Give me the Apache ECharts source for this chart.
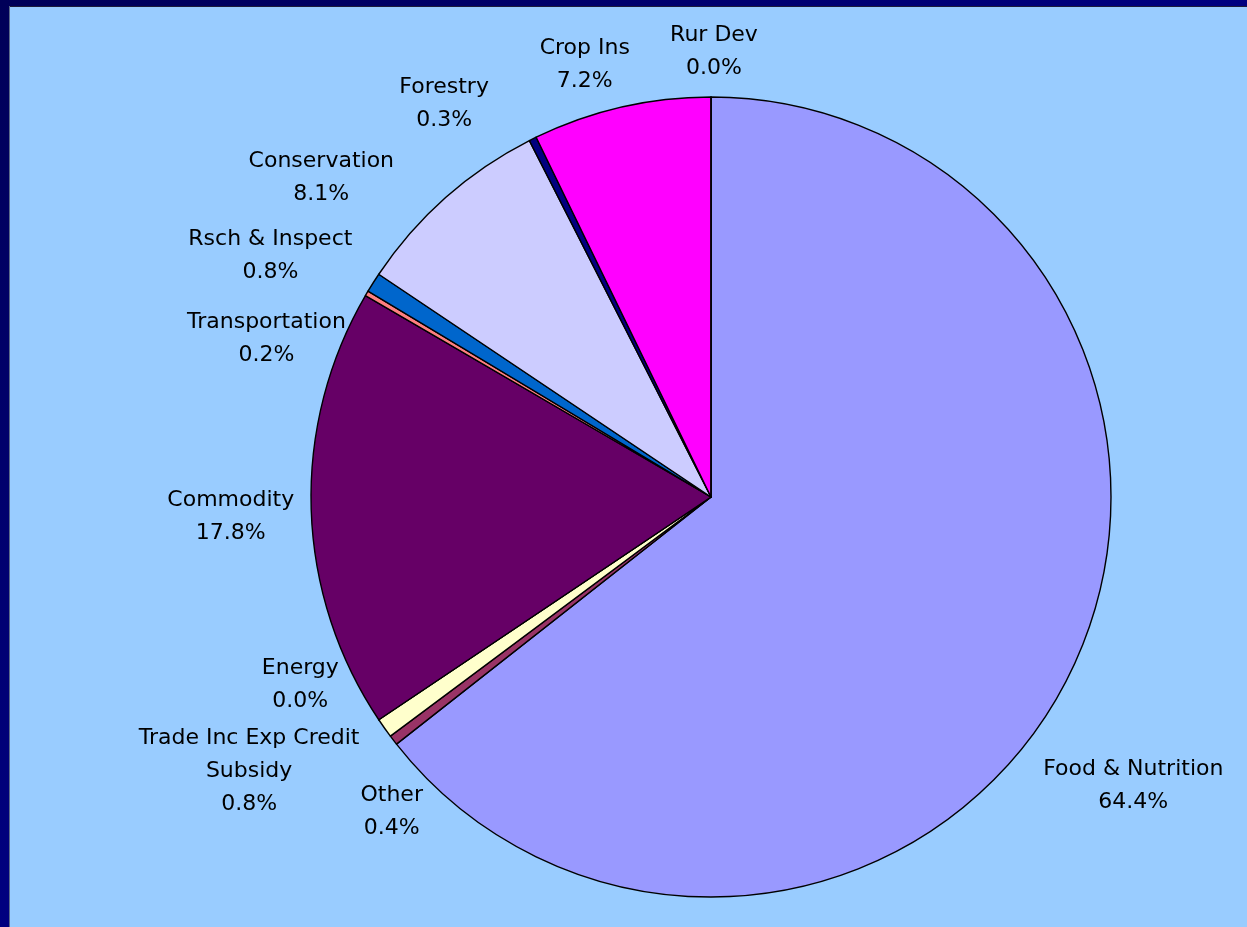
<!DOCTYPE html>
<html>
<head>
<meta charset="utf-8">
<title>Outlays by Mission Area</title>
<script src="https://cdn.jsdelivr.net/npm/echarts@6/dist/echarts.min.js"></script>
<style>
  html, body { margin: 0; padding: 0; background: #99CCFF; }
  #chart { width: 1247px; height: 927px; }
</style>
</head>
<body>
<div id="chart"></div>
<script>
// Share of outlays by mission area (percent), clockwise from 12 o'clock
const categories = [
  'Food & Nutrition', 'Other', 'Trade Inc Exp Credit\nSubsidy', 'Energy',
  'Commodity', 'Transportation', 'Rsch & Inspect', 'Conservation',
  'Forestry', 'Crop Ins', 'Rur Dev'
];
const values = [64.4, 0.4, 0.8, 0.0, 17.8, 0.2, 0.8, 8.1, 0.3, 7.2, 0.0];
const sliceColors = [
  '#9999FF', '#993366', '#FFFFCC', '#FFFFFF',
  '#660066', '#FF8080', '#0066CC', '#CCCCFF',
  '#000080', '#FF00FF', '#00FFFF'
];

// Pie geometry (pixels)
const CX = 711, CY = 497, RADIUS = 400, LABEL_GAP = 15;
// Small per-label adjustments so neighbouring labels do not collide
const labelNudge = [
  [-32, 93], [35, 42], [-33, 6], [-34, -62], [-2, 6], [-19, 70],
  [-21, -1], [-66, 16], [-62, 8], [-23, 4], [3, 3]
];

const total = values.reduce((a, b) => a + b, 0);
const startShare = [];
values.reduce((acc, v, i) => { startShare[i] = acc; return acc + v; }, 0);

const chart = echarts.init(document.getElementById('chart'), null, { renderer: 'canvas' });

chart.setOption({
  backgroundColor: '#99CCFF',
  animation: false,
  graphic: [
    { type: 'rect', shape: { x: 0, y: 0, width: 1247, height: 6 },
      style: { fill: new echarts.graphic.LinearGradient(0, 0, 1, 0, [
        { offset: 0, color: '#000058' }, { offset: 1, color: '#000080' }]) } },
    { type: 'rect', shape: { x: 0, y: 0, width: 9, height: 927 },
      style: { fill: new echarts.graphic.LinearGradient(0, 0, 0, 1, [
        { offset: 0, color: '#000058' }, { offset: 1, color: '#000080' }]) } },
    { type: 'rect', shape: { x: 9, y: 6, width: 1238, height: 1 },
      style: { fill: '#1c1c3a' } },
    { type: 'rect', shape: { x: 9, y: 6, width: 1, height: 921 },
      style: { fill: '#5a6a8a' } }
  ],
  series: [{
    type: 'pie',
    center: [CX, CY],
    radius: RADIUS,
    startAngle: 90,
    clockwise: true,
    avoidLabelOverlap: false,
    minShowLabelAngle: 0,
    data: categories.map((name, i) => ({
      name: name,
      value: values[i],
      itemStyle: { color: sliceColors[i] }
    })),
    itemStyle: { borderColor: '#000000', borderWidth: 1.4 },
    emphasis: { disabled: true },
    label: {
      show: true,
      position: 'outside',
      color: '#000000',
      fontFamily: 'DejaVu Sans',
      fontSize: 22,
      lineHeight: 33,
      align: 'center',
      formatter: p => p.name + '\n' + Number(p.value).toFixed(1) + '%'
    },
    labelLine: { show: false },
    labelLayout: function (p) {
      const i = p.dataIndex;
      const mid = (startShare[i] + values[i] / 2) / total * Math.PI * 2;
      const dx = Math.sin(mid), dy = -Math.cos(mid);
      const w = p.labelRect.width, h = p.labelRect.height;
      const r = RADIUS + LABEL_GAP;
      return {
        x: CX + dx * r + dx * w / 2 + labelNudge[i][0],
        y: CY + dy * r + dy * h / 2 + labelNudge[i][1],
        align: 'center',
        verticalAlign: 'middle'
      };
    }
  }]
});
</script>
</body>
</html>
